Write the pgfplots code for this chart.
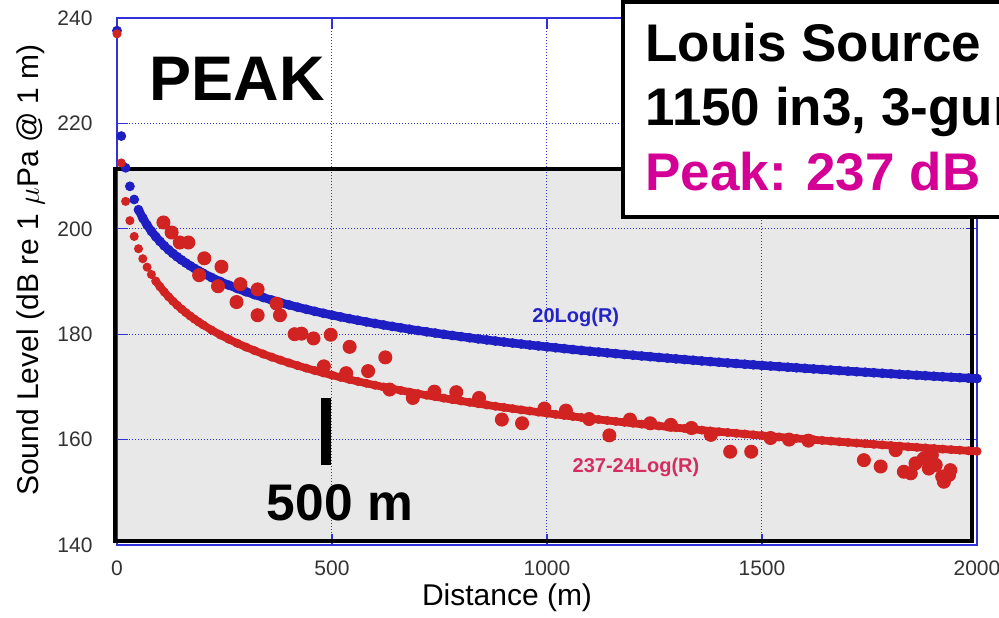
\documentclass[border=0pt]{standalone}
\usepackage{fontspec}
\setmainfont{Liberation Sans}
\usepackage{pgfplots}
\pgfplotsset{compat=1.18}
\usepackage{pgfplotstable}
\definecolor{axblue}{RGB}{50,50,220}
\definecolor{dotblue}{RGB}{30,30,195}
\definecolor{dotred}{RGB}{210,35,35}
\definecolor{peakmag}{RGB}{212,0,150}
\definecolor{labblue}{RGB}{35,35,200}
\definecolor{labpink}{RGB}{212,45,95}
\definecolor{boxgray}{RGB}{232,232,232}
\definecolor{ticklab}{RGB}{50,50,50}

\pgfplotstableread{
x y
0 237.6
10 217.6
20 211.58
30 208.06
40 205.56
50 203.62
60 202.04
70 200.70
80 199.54
90 198.52
100 197.60
110 196.77
120 196.02
130 195.32
140 194.68
150 194.08
160 193.52
170 192.99
180 192.49
190 192.03
200 191.58
220 190.75
240 190.00
260 189.30
280 188.66
300 188.06
320 187.50
340 186.97
360 186.47
380 186.00
400 185.56
420 185.13
440 184.73
460 184.34
480 183.97
500 183.62
520 183.28
540 182.95
560 182.64
580 182.33
600 182.04
620 181.75
640 181.48
660 181.21
680 180.95
700 180.70
720 180.45
740 180.22
760 179.98
780 179.76
800 179.54
820 179.32
840 179.11
860 178.91
880 178.71
900 178.52
920 178.32
940 178.14
960 177.95
980 177.78
1000 177.60
1020 177.43
1040 177.26
1060 177.09
1080 176.93
1100 176.77
1120 176.62
1140 176.46
1160 176.31
1180 176.16
1200 176.02
1220 175.87
1240 175.73
1260 175.59
1280 175.46
1300 175.32
1320 175.19
1340 175.06
1360 174.93
1380 174.80
1400 174.68
1420 174.55
1440 174.43
1460 174.31
1480 174.19
1500 174.08
1520 173.96
1540 173.85
1560 173.74
1580 173.63
1600 173.52
1620 173.41
1640 173.30
1660 173.20
1680 173.09
1700 172.99
1720 172.89
1740 172.79
1760 172.69
1780 172.59
1800 172.49
1820 172.40
1840 172.30
1860 172.21
1880 172.12
1900 172.02
1920 171.93
1940 171.84
1960 171.75
1980 171.67
2000 171.58
}\bluecurve

\pgfplotstableread{
x y
0 237.0
10 212.5
20 205.2
30 201.55
40 198.55
50 196.22
60 194.32
70 192.72
80 191.33
90 190.10
100 189.00
110 188.01
120 187.10
130 186.27
140 185.49
150 184.77
160 184.10
170 183.47
180 182.87
190 182.31
200 181.78
220 180.78
240 179.87
260 179.04
280 178.27
300 177.55
320 176.88
340 176.24
360 175.65
380 175.09
400 174.55
420 174.04
440 173.56
460 173.09
480 172.65
500 172.22
520 171.82
540 171.42
560 171.04
580 170.68
600 170.32
620 169.98
640 169.65
660 169.33
680 169.02
700 168.72
720 168.42
740 168.14
760 167.86
780 167.59
800 167.33
820 167.07
840 166.82
860 166.57
880 166.33
900 166.10
920 165.87
940 165.64
960 165.43
980 165.21
1000 165.00
1020 164.79
1040 164.59
1060 164.39
1080 164.20
1100 164.01
1120 163.82
1140 163.63
1160 163.45
1180 163.28
1200 163.10
1220 162.93
1240 162.76
1260 162.59
1280 162.43
1300 162.27
1320 162.11
1340 161.95
1360 161.80
1380 161.64
1400 161.49
1420 161.35
1440 161.20
1460 161.06
1480 160.91
1500 160.77
1520 160.64
1540 160.50
1560 160.37
1580 160.23
1600 160.10
1620 159.97
1640 159.84
1660 159.72
1680 159.59
1700 159.47
1720 159.35
1740 159.23
1760 159.11
1780 158.99
1800 158.87
1820 158.76
1840 158.64
1860 158.53
1880 158.42
1900 158.31
1920 158.20
1940 158.09
1960 157.99
1980 157.88
2000 157.78
}\redcurve

\pgfplotstableread{
x y
108 201.2
127 199.3
146 197.4
166 197.4
203 194.4
243 192.8
191 191.2
235 189.1
287 189.5
327 188.5
278 186.1
327 183.6
371 185.8
379 183.6
413 180.0
429 180.1
457 179.2
497 179.9
541 177.6
624 175.6
481 173.9
533 172.6
584 173.0
634 169.5
688 167.9
738 169.1
789 169.0
842 167.9
895 163.8
942 163.1
994 165.9
1044 165.5
1098 163.9
1145 160.8
1193 163.8
1240 163.1
1288 162.8
1336 162.2
1381 160.9
1426 157.7
1475 157.7
1520 160.3
1563 160.0
1608 159.8
1737 156.1
1776 154.9
1811 158.0
1830 153.9
1846 153.6
1857 155.5
1876 156.4
1888 155.8
1895 157.1
1904 155.2
1888 154.5
1919 153.0
1935 153.3
1923 152.0
1938 154.2
}\measured

\begin{document}
\begin{tikzpicture}
\begin{axis}[
  set layers,
  scale only axis, width=344pt, height=210.8pt,
  xmin=0, xmax=2000, ymin=140, ymax=240,
  xtick={0,500,1000,1500,2000},
  ytick={140,160,180,200,220,240},
  clip=false,
  axis line style={axblue, line width=0.5pt},
  grid=major,
  major grid style={axblue, line width=0.4pt, dash pattern=on 0.4pt off 0.8pt},
  tick style={axblue, line width=0.5pt},
  major tick length=4.5pt,
  tick align=inside,
  scaled ticks=false,
  /pgf/number format/1000 sep={},
  /pgf/number format/assume math mode=true,
  ticklabel style={font=\fontsize{8.4}{10}\selectfont, text=ticklab},
  xticklabel style={inner sep=0pt, anchor=north, yshift=-6pt},
  yticklabel style={inner sep=0pt, anchor=east, xshift=-9.6pt},
  xlabel={Distance (m)},
  ylabel={Sound Level (dB re 1 $\mu$Pa @ 1 m)},
  xlabel style={font=\fontsize{12}{14}\selectfont, at={(axis description cs:0.4535,-0.1006)}, anchor=center, inner sep=0pt},
  ylabel style={font=\fontsize{12}{14}\selectfont, at={(axis description cs:-0.1000,0.522)}, anchor=center, inner sep=0pt},
]
\begin{pgfonlayer}{axis background}
\fill[boxgray] (axis cs:-4,140.8) rectangle (axis cs:1988,211.35);
\end{pgfonlayer}
\draw[black, line width=1.6pt] (axis cs:-4,140.8) rectangle (axis cs:1988,211.35);
% 20Log(R): separate dots near the source, a solid band of dots further out
\addplot[only marks, mark=*, mark size=1.75pt, color=dotblue] table {\bluecurve};
\addplot[no marks, line width=3.4pt, color=dotblue, restrict x to domain=50:2000] table {\bluecurve};
% 237-24Log(R)
\addplot[only marks, mark=*, mark size=1.6pt, color=dotred] table {\redcurve};
\addplot[no marks, line width=3.1pt, color=dotred, restrict x to domain=90:2000] table {\redcurve};
% measured peak levels
\addplot[only marks, mark=*, mark size=2.6pt, color=dotred] table {\measured};
\node[font=\bfseries\fontsize{8}{9}\selectfont, text=labblue] at (axis cs:1067,183.1) {20Log(R)};
\node[font=\bfseries\fontsize{8}{9}\selectfont, text=labpink] at (axis cs:1207,154.8) {237-24Log(R)};
\end{axis}
\draw[line width=4pt] (83.6pt,32pt) -- (83.6pt,58.8pt);
\node[font=\bfseries\fontsize{20.6}{24}\selectfont, anchor=base, inner sep=0pt] at (89.2pt,10pt) {500 m};
\node[font=\bfseries\fontsize{25.2}{30}\selectfont, anchor=base, inner sep=0pt] at (48pt,178pt) {PEAK};
\draw[fill=white, line width=1.6pt] (202.3pt,131.3pt) rectangle (380pt,217.3pt);
\node[font=\bfseries\fontsize{21.2}{25}\selectfont, anchor=base west, inner sep=0pt] at (211.2pt,193.4pt) {Louis Source};
\node[font=\bfseries\fontsize{21.2}{25}\selectfont, anchor=base west, inner sep=0pt] at (211.2pt,167.6pt) {1150 in3, 3-gun};
\node[font=\bfseries\fontsize{21.2}{25}\selectfont, anchor=base west, inner sep=0pt, text=peakmag] at (211.2pt,141.6pt) {Peak: 237 dB};
\pgfresetboundingbox
\path[use as bounding box] (-46.8pt,-28.8pt) rectangle (352.8pt,218pt);
\end{tikzpicture}
\end{document}
